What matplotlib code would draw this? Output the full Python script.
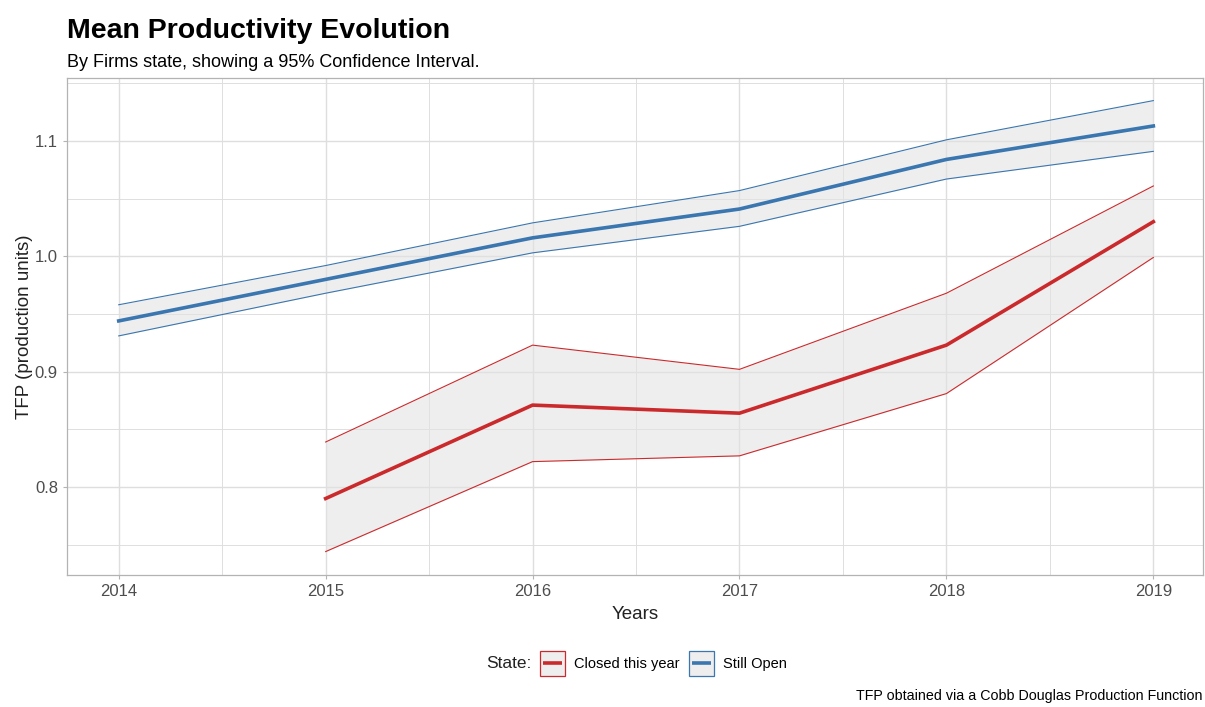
import matplotlib
matplotlib.use("Agg")
import matplotlib.pyplot as plt
from matplotlib.patches import Rectangle
from matplotlib.lines import Line2D

plt.rcParams['font.family'] = ['Liberation Sans', 'DejaVu Sans']

years_open = [2014, 2015, 2016, 2017, 2018, 2019]
open_mean = [0.944, 0.980, 1.016, 1.041, 1.084, 1.113]
open_hi = [0.958, 0.992, 1.029, 1.057, 1.101, 1.135]
open_lo = [0.931, 0.968, 1.003, 1.026, 1.067, 1.091]

years_closed = [2015, 2016, 2017, 2018, 2019]
closed_mean = [0.790, 0.871, 0.864, 0.923, 1.030]
closed_hi = [0.839, 0.923, 0.902, 0.968, 1.061]
closed_lo = [0.744, 0.822, 0.827, 0.881, 0.999]

labels = ["Closed this year", "Still Open"]
red = "#CB2A2C"
blue = "#3A76AF"

fig = plt.figure(figsize=(12.05, 7.07), dpi=100)
ax = fig.add_axes([67/1205, 1-575/707, (1203-67)/1205, (575-78)/707])

grid_c = "#DEDEDE"
ax.set_xlim(2013.75, 2019.24)
ax.set_ylim(0.7237, 1.1546)
ax.set_xticks([2014, 2015, 2016, 2017, 2018, 2019])
ax.set_xticks([2014.5, 2015.5, 2016.5, 2017.5, 2018.5], minor=True)
ax.set_yticks([0.8, 0.9, 1.0, 1.1])
ax.set_yticklabels(["0.8", "0.9", "1.0", "1.1"])
ax.set_yticks([0.75, 0.85, 0.95, 1.05, 1.15], minor=True)
ax.grid(which='major', color=grid_c, linewidth=1.0)
ax.grid(which='minor', color=grid_c, linewidth=0.7)
ax.set_axisbelow(True)
for s in ax.spines.values():
    s.set_color("#B3B3B3")
    s.set_linewidth(0.9)
ax.tick_params(which='both', length=0, labelsize=12, labelcolor="#4D4D4D", pad=3.5)
ax.tick_params(which='major', axis='x', length=3, color="#B3B3B3")
ax.tick_params(which='major', axis='y', length=3, color="#B3B3B3")

for yrs, m, hi, lo, c in [(years_closed, closed_mean, closed_hi, closed_lo, red),
                          (years_open, open_mean, open_hi, open_lo, blue)]:
    ax.fill_between(yrs, lo, hi, color="#E3E3E3", alpha=0.6, linewidth=0)
    ax.plot(yrs, hi, color=c, linewidth=0.8)
    ax.plot(yrs, lo, color=c, linewidth=0.8)
    ax.plot(yrs, m, color=c, linewidth=2.6)

ax.set_xlabel("Years", fontsize=13.5, color="#222222", labelpad=5)
ax.set_ylabel("TFP (production units)", fontsize=13.5, color="#222222", labelpad=1)

fig.text(67/1205, 1-38/707, "Mean Productivity Evolution", fontsize=20.5, fontweight='bold', ha='left', va='baseline')
fig.text(67/1205, 1-67/707, "By Firms state, showing a 95% Confidence Interval.", fontsize=13, ha='left', va='baseline')
fig.text(1203/1205, 4/707, "TFP obtained via a Cobb Douglas Production Function", fontsize=10.3, ha='right', va='bottom')


class KeyHandler:
    def legend_artist(self, legend, orig_handle, fontsize, handlebox):
        c = orig_handle.get_color()
        w, h = handlebox.width, handlebox.height
        side = 18.0
        x0 = -handlebox.xdescent + (w - side) / 2
        y0 = -handlebox.ydescent + (h - side) / 2
        tr = handlebox.get_transform()
        rect = Rectangle((x0, y0), side, side, facecolor="#EEEEEE", edgecolor=c,
                         linewidth=0.9, transform=tr)
        line = Line2D([x0 + 0.12 * side, x0 + 0.88 * side], [y0 + side / 2] * 2,
                      color=c, linewidth=2.6, solid_capstyle='butt', transform=tr)
        handlebox.add_artist(rect)
        handlebox.add_artist(line)
        return rect


handles = [Line2D([], [], color=c) for c in [red, blue]]
leg = fig.legend(handles, labels, loc='center', bbox_to_anchor=(663/1205, 1-663/707),
                 ncol=2, frameon=False, fontsize=10.5, handlelength=1.8, handleheight=1.8,
                 handletextpad=0.6, columnspacing=0.6,
                 handler_map={Line2D: KeyHandler()})
fig.text(486/1205, 1-663/707, "State:", fontsize=12.5, ha='left', va='center', color="#222222")

fig.savefig("out.png", dpi=100)
